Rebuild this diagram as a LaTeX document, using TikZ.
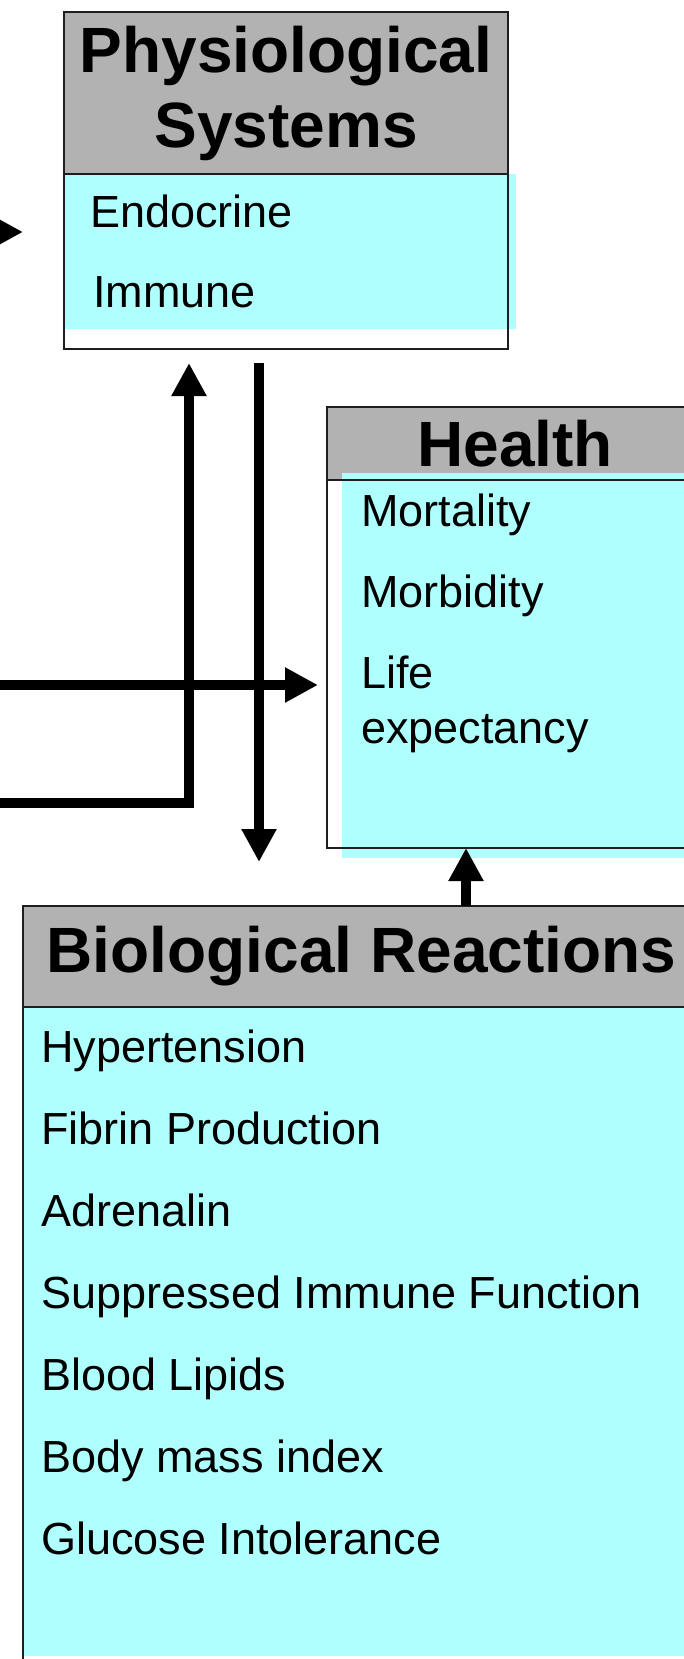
\documentclass[tikz,border=0pt]{standalone}
\usepackage{fontspec}
\setmainfont{Liberation Sans}
\usetikzlibrary{positioning,arrows.meta,backgrounds}

\definecolor{headgray}{RGB}{178,178,178}
\definecolor{listcyan}{RGB}{176,255,255}
\definecolor{edgeblack}{RGB}{30,30,30}

\begin{document}
\begin{tikzpicture}[
    x=1pt, y=1pt,
    headbox/.style={rectangle, draw=edgeblack, line width=1.6pt, outer sep=0pt, inner sep=0pt, align=center, font=\fontsize{64}{75}\selectfont\bfseries},
    listbox/.style={rectangle, draw=edgeblack, line width=1.6pt, outer sep=0pt, inner sep=0pt},
    listitem/.style={inner sep=0pt, anchor=base west, align=left, font=\fontsize{45}{55}\selectfont},
    arrow/.style={-{Triangle[length=33pt, width=33pt]}, line width=9.5pt}
]
    \useasboundingbox (0,0) rectangle (684,-1659);

    % Physiological Systems
    \node[headbox, minimum width=444pt, minimum height=162pt, anchor=north west] (physhead) at (64,-12) {Physiological\\Systems};
    \node[listbox, minimum width=444pt, minimum height=175pt, below=0pt of physhead] (physbody) {};

    % Health
    \node[headbox, minimum width=376pt, minimum height=73pt, anchor=north west] (healthhead) at (327,-407) {Health};
    \node[listbox, minimum width=376pt, minimum height=368pt, below=0pt of healthhead] (healthbody) {};

    % Biological Reactions
    \node[headbox, minimum width=677pt, minimum height=101pt, anchor=north west] (biohead) at (23,-906) {Biological Reactions};
    \node[listbox, minimum width=677pt, minimum height=693pt, below=0pt of biohead] (biobody) {};

    % Fills
    \begin{scope}[on background layer]
        \fill[headgray] (physhead.north west) rectangle (physhead.south east);
        \fill[headgray] (healthhead.north west) rectangle (healthhead.south east);
        \fill[headgray] (biohead.north west) rectangle (biohead.south east);
        \fill[listcyan] (physbody.north west) rectangle ([xshift=8pt, yshift=20pt]physbody.south east);
        \fill[listcyan] ([xshift=15pt, yshift=7pt]healthbody.north west) rectangle ([xshift=8pt, yshift=-10pt]healthbody.south east);
        \fill[listcyan] (biobody.north west) rectangle ([yshift=44pt]biobody.south east);
    \end{scope}

    % Physiological Systems items
    \node[listitem] (endocrine) at ([xshift=26pt, yshift=-53pt]physbody.north west) {Endocrine};
    \node[listitem, below=80pt of endocrine.base west, anchor=base west, xshift=3pt] (immune) {Immune};

    % Health items
    \node[listitem] (mortality) at ([xshift=34pt, yshift=-46pt]healthbody.north west) {Mortality};
    \node[listitem, below=81pt of mortality.base west, anchor=base west] (morbidity) {Morbidity};
    \node[listitem, below=136pt of morbidity.base west, anchor=base west] (lifeexp) {Life\\expectancy};

    % Biological Reactions items
    \node[listitem] (hypertension) at ([xshift=18pt, yshift=-55pt]biobody.north west) {Hypertension};
    \node[listitem, below=82pt of hypertension.base west, anchor=base west] (fibrin) {Fibrin Production};
    \node[listitem, below=82pt of fibrin.base west, anchor=base west] (adrenalin) {Adrenalin};
    \node[listitem, below=82pt of adrenalin.base west, anchor=base west] (immunefn) {Suppressed Immune Function};
    \node[listitem, below=82pt of immunefn.base west, anchor=base west] (lipids) {Blood Lipids};
    \node[listitem, below=82pt of lipids.base west, anchor=base west] (bmi) {Body mass index};
    \node[listitem, below=82pt of bmi.base west, anchor=base west] (glucose) {Glucose Intolerance};

    % Arrow ends
    \coordinate (fromleft) at (-80,-232);
    \coordinate (sidein) at (-80,-685);
    \coordinate (loopin) at (-80,-803);
    \coordinate (upend) at ([xshift=-97pt, yshift=-14pt]physbody.south);
    \coordinate (downstart) at ([xshift=-27pt, yshift=-14pt]physbody.south);
    \coordinate (healthin) at ([xshift=-49pt]healthbody.south);

    % Arrows
    \draw[arrow, shorten >=41pt] (fromleft) -- (fromleft -| physbody.west);
    \draw[arrow, shorten >=9pt] (sidein) -- (sidein -| healthbody.west);
    \draw[arrow] (loopin) -| (upend);
    \draw[arrow, shorten >=44pt] (downstart) -- (downstart |- biohead.north);
    \draw[arrow] (healthin |- biohead.north) -- (healthin);
\end{tikzpicture}
\end{document}
